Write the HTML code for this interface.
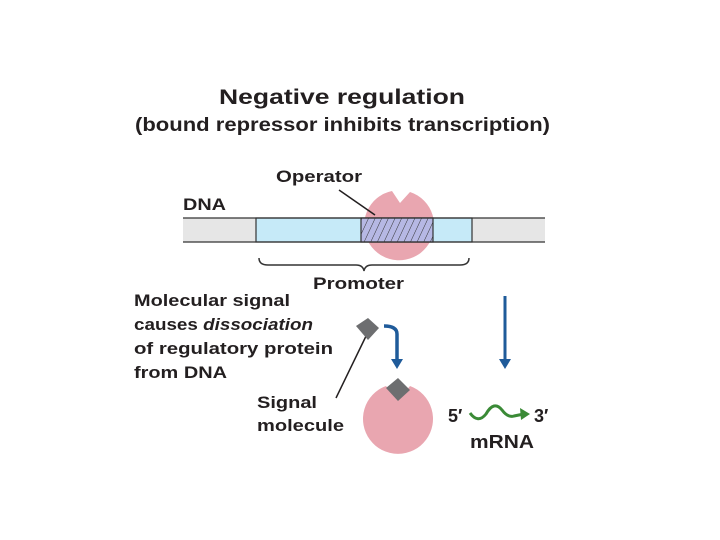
<!DOCTYPE html>
<html><head><style>html,body{margin:0;padding:0;background:#fff;}svg{display:block}</style></head><body>
<svg width="720" height="540" viewBox="0 0 720 540" xmlns="http://www.w3.org/2000/svg" font-family="Liberation Sans, sans-serif" font-weight="bold" fill="#231f20">
<defs>
<pattern id="h" width="6" height="6" patternUnits="userSpaceOnUse" patternTransform="rotate(25)">
<rect width="6" height="6" fill="#b6b8e4"/><line x1="0" y1="0" x2="0" y2="6" stroke="#333" stroke-width="1"/>
</pattern>
</defs>
<text x="219" y="104" font-size="21" textLength="246" lengthAdjust="spacingAndGlyphs">Negative regulation</text>
<text x="135" y="131" font-size="19" textLength="415" lengthAdjust="spacingAndGlyphs">(bound repressor inhibits transcription)</text>
<text x="276" y="182" font-size="17" textLength="86" lengthAdjust="spacingAndGlyphs">Operator</text>
<text x="183" y="210" font-size="17" textLength="43" lengthAdjust="spacingAndGlyphs">DNA</text>
<!-- repressor -->
<path d="M410,192 A35,35 0 1 1 392,191 L400,203 Z" fill="#e9a6b0"/>
<!-- DNA -->
<rect x="183" y="218" width="362" height="24" fill="#e6e6e6"/>
<rect x="256" y="218" width="216" height="24" fill="#c6eaf8" stroke="#333" stroke-width="1.2"/>
<rect x="361" y="218" width="72" height="24" fill="url(#h)" stroke="#333" stroke-width="1.2"/>
<line x1="183" y1="218" x2="545" y2="218" stroke="#333" stroke-width="1.2"/>
<line x1="183" y1="242" x2="545" y2="242" stroke="#333" stroke-width="1.2"/>
<line x1="339" y1="190" x2="375" y2="215" stroke="#231f20" stroke-width="1.5"/>
<!-- brace -->
<path d="M259,258 Q259,265 268,265 L356,265 Q363,265 364,271 Q365,265 372,265 L460,265 Q469,265 469,258" fill="none" stroke="#333" stroke-width="1.5"/>
<text x="313" y="289" font-size="17" textLength="91" lengthAdjust="spacingAndGlyphs">Promoter</text>
<text x="134" y="306" font-size="17" textLength="156" lengthAdjust="spacingAndGlyphs">Molecular signal</text>
<text x="134" y="330" font-size="17" textLength="179" lengthAdjust="spacingAndGlyphs">causes <tspan font-style="italic">dissociation</tspan></text>
<text x="134" y="354" font-size="17" textLength="199" lengthAdjust="spacingAndGlyphs">of regulatory protein</text>
<text x="134" y="378" font-size="17" textLength="93" lengthAdjust="spacingAndGlyphs">from DNA</text>
<text x="257" y="408" font-size="17" textLength="60" lengthAdjust="spacingAndGlyphs">Signal</text>
<text x="257" y="431" font-size="17" textLength="87" lengthAdjust="spacingAndGlyphs">molecule</text>
<line x1="368" y1="332" x2="336" y2="398" stroke="#231f20" stroke-width="1.5"/>
<!-- upper signal molecule -->
<polygon points="356,326 368,318 379,328 368,340" fill="#6d6e70"/>
<!-- blue hook & arrows -->
<path d="M384,326 Q397,326 397,334 L397,362" fill="none" stroke="#1f5b9a" stroke-width="3.5"/>
<polygon points="391,359 403,359 397,369" fill="#1f5b9a"/>
<line x1="505" y1="296" x2="505" y2="362" stroke="#1f5b9a" stroke-width="3"/>
<polygon points="499,359 511,359 505,369" fill="#1f5b9a"/>
<!-- lower repressor -->
<path d="M410,386 A35,35 0 1 1 386,386 L398,400 Z" fill="#e9a6b0"/>
<polygon points="386,388 398,378 410,390 398,401" fill="#6d6e70"/>
<!-- mRNA -->
<text x="448" y="422" font-size="18">5′</text>
<path d="M470,413 Q478,424 486,414 Q494,400 502,410 Q508,418 514,416 L524,414" fill="none" stroke="#3a8a36" stroke-width="3"/>
<polygon points="520,408 530,414 521,420" fill="#3a8a36"/>
<text x="534" y="422" font-size="18">3′</text>
<text x="470" y="448" font-size="18" textLength="64" lengthAdjust="spacingAndGlyphs">mRNA</text>
</svg>
</body></html>
